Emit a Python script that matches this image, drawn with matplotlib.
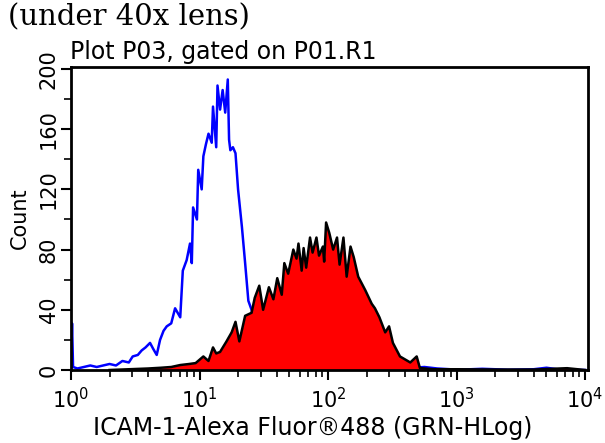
import numpy as np
import matplotlib.pyplot as plt
from matplotlib.ticker import LogLocator, MultipleLocator, FixedLocator, NullFormatter

# Blue (control) histogram, x as log10 of intensity
blue_log = [0.0, 0.008, 0.016, 0.05, 0.10, 0.15, 0.20, 0.25, 0.30, 0.35, 0.40, 0.45, 0.48,
            0.52, 0.55, 0.58, 0.615, 0.64, 0.667, 0.693, 0.72, 0.745, 0.78, 0.81, 0.85, 0.87,
            0.90, 0.926, 0.94, 0.95, 0.98, 0.99, 1.017, 1.03, 1.05, 1.07, 1.095, 1.105, 1.13,
            1.14, 1.16, 1.18, 1.20, 1.22, 1.23, 1.24, 1.26, 1.28, 1.30, 1.33, 1.355, 1.38,
            1.405, 1.45, 1.50, 1.6, 1.8, 2.0, 2.3, 2.6, 2.75, 2.85, 2.95, 3.05, 3.2, 3.4,
            3.6, 3.7, 3.8, 4.0]
blue_count = [0, 31, 2, 1, 2, 3, 2, 3, 4, 3, 6, 5, 9,
              10, 13, 15, 18, 14, 10, 20, 26, 29, 31, 41, 35, 66,
              73, 84, 71, 108, 100, 133, 120, 142, 150, 157, 151, 175, 148,
              189, 173, 186, 171, 193, 153, 146, 148, 144, 120, 95, 71, 46,
              40, 25, 12, 6, 3, 2, 1.5, 1, 2, 1, 0.5, 0.3, 0.8, 0.2,
              0.5, 1.5, 0.3, 0]

# Red (ICAM-1 stained) histogram
red_log = [0.3, 0.45, 0.6, 0.7, 0.78, 0.85, 0.92, 0.97, 1.03, 1.07, 1.105, 1.13, 1.16, 1.21,
           1.25, 1.28, 1.31, 1.355, 1.405, 1.43, 1.465, 1.495, 1.54, 1.575, 1.605, 1.64,
           1.66, 1.69, 1.73, 1.755, 1.77, 1.795, 1.81, 1.83, 1.86, 1.88, 1.91, 1.93, 1.96,
           1.97, 1.985, 2.01, 2.04, 2.07, 2.09, 2.12, 2.145, 2.175, 2.20, 2.235, 2.29, 2.34,
           2.365, 2.40, 2.445, 2.475, 2.505, 2.56, 2.64, 2.69, 2.715, 2.82, 3.0, 3.3, 3.6,
           3.86, 4.0]
red_count = [0, 0.5, 1, 1.5, 2, 3.3, 4, 4.6, 9, 6, 15, 11, 12, 19,
             25, 32, 19, 36, 38, 48, 56, 40, 55, 47, 61, 50,
             71, 64, 80, 74, 84, 66, 81, 68, 88, 78, 88, 76, 82,
             72, 98, 91, 80, 88, 70, 88, 62, 82, 75, 62, 53, 44,
             41, 35, 25, 29, 18, 9, 5, 9, 1.3, 0.5, 0.5, 0.3, 0.3,
             1.2, 0]

blue_x = 10 ** np.array(blue_log)
red_x = 10 ** np.array(red_log)

fig = plt.figure(figsize=(6.05, 4.43), dpi=100)
ax = fig.add_axes([71 / 605, 73 / 443, 517 / 605, 303 / 443])

ax.plot(blue_x, blue_count, color="#0000ff", linewidth=1.8, zorder=1)
ax.fill_between(red_x, red_count, color="#ff0000", linewidth=0, zorder=2)
ax.plot(red_x, red_count, color="black", linewidth=1.8, zorder=3)

ax.set_xscale("log")
ax.set_xlim(1, 10 ** 4.023)
ax.set_ylim(0, 201.3)

ax.xaxis.set_major_locator(FixedLocator([1, 10, 100, 1000, 10000]))
ax.xaxis.set_minor_locator(LogLocator(base=10, subs=np.arange(2, 10)))
ax.xaxis.set_minor_formatter(NullFormatter())
ax.set_xticklabels([r"$10^0$", r"$10^1$", r"$10^2$", r"$10^3$", r"$10^4$"])

ax.yaxis.set_major_locator(MultipleLocator(40))
ax.yaxis.set_minor_locator(MultipleLocator(20))
for lab in ax.get_yticklabels():
    lab.set_rotation(90)
    lab.set_va("center")

ax.tick_params(which="major", length=7, width=1.5, labelsize=15, color="black")
ax.tick_params(which="minor", length=5, width=1.2)
ax.tick_params(axis="y", pad=2)
ax.tick_params(axis="x", pad=5)
for s in ax.spines.values():
    s.set_linewidth(2)

ax.set_xlabel("ICAM-1-Alexa Fluor®488 (GRN-HLog)", fontsize=17)
ax.xaxis.set_label_coords((313 - 71) / 517, -0.152)
ax.xaxis.label.set_va("top")
ax.set_ylabel("Count", fontsize=15, labelpad=6)

fig.text(8 / 605, 1 - 3 / 443, "(under 40x lens)", family="DejaVu Serif",
         fontsize=21, va="top", ha="left")
fig.text(70 / 605, 1 - 59 / 443, "Plot P03, gated on P01.R1", fontsize=17,
         va="baseline", ha="left")

fig.savefig("out.png", dpi=100)
